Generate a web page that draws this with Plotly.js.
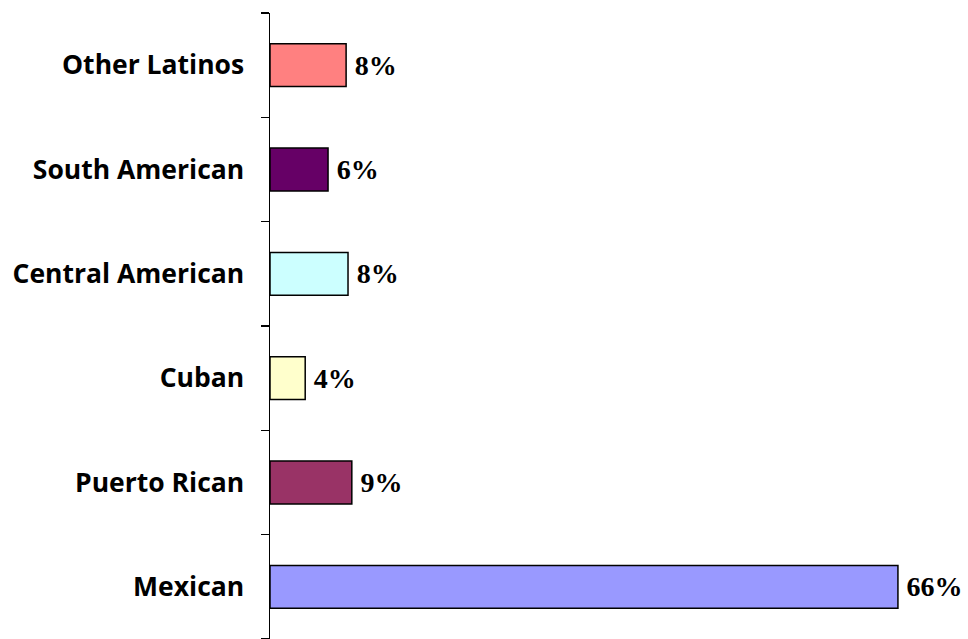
<!DOCTYPE html>
<html>
<head>
<meta charset="utf-8">
<script src="https://cdn.plot.ly/plotly-3.0.1.min.js"></script>
<style>html,body{margin:0;padding:0;background:#fff;}#chart{width:968px;height:639px;}</style>
</head>
<body>
<div id="chart"></div>
<script>
const categories = ["Mexican", "Puerto Rican", "Cuban", "Central American", "South American", "Other Latinos"];
const values = [66, 8.6, 3.7, 8.2, 6.1, 8.0];
const labels = ["66%", "9%", "4%", "8%", "6%", "8%"];
const colors = ["#9999FF", "#993366", "#FFFFCC", "#CCFFFF", "#660066", "#FF8080"];

const trace = {
  type: "bar",
  orientation: "h",
  y: categories,
  x: values,
  text: labels,
  texttemplate: "\u2009%{text}",
  textposition: "outside",
  cliponaxis: false,
  textfont: {family: "Liberation Serif", size: 28, color: "#000", weight: "bold"},
  marker: {color: colors, line: {color: "#000", width: 1.5}},
  hoverinfo: "none"
};

const layout = {
  width: 968, height: 639,
  margin: {l: 270, r: 32, t: 13, b: 0},
  paper_bgcolor: "#fff", plot_bgcolor: "#fff",
  showlegend: false,
  bargap: 0.59,
  xaxis: {visible: false, range: [0, 70], fixedrange: true},
  yaxis: {
    type: "category",
    showline: true, linecolor: "#000", linewidth: 1.5,
    ticks: "outside", ticklen: 8, tickwidth: 1.5, tickcolor: "#000",
    tickson: "boundaries",
    showgrid: false, zeroline: false,
    ticklabelstandoff: 19,
    tickfont: {family: "Open Sans", size: 26.5, color: "#000", weight: "bold"}
  }
};

Plotly.newPlot("chart", [trace], layout, {displayModeBar: false, staticPlot: true});
</script>
</body>
</html>
